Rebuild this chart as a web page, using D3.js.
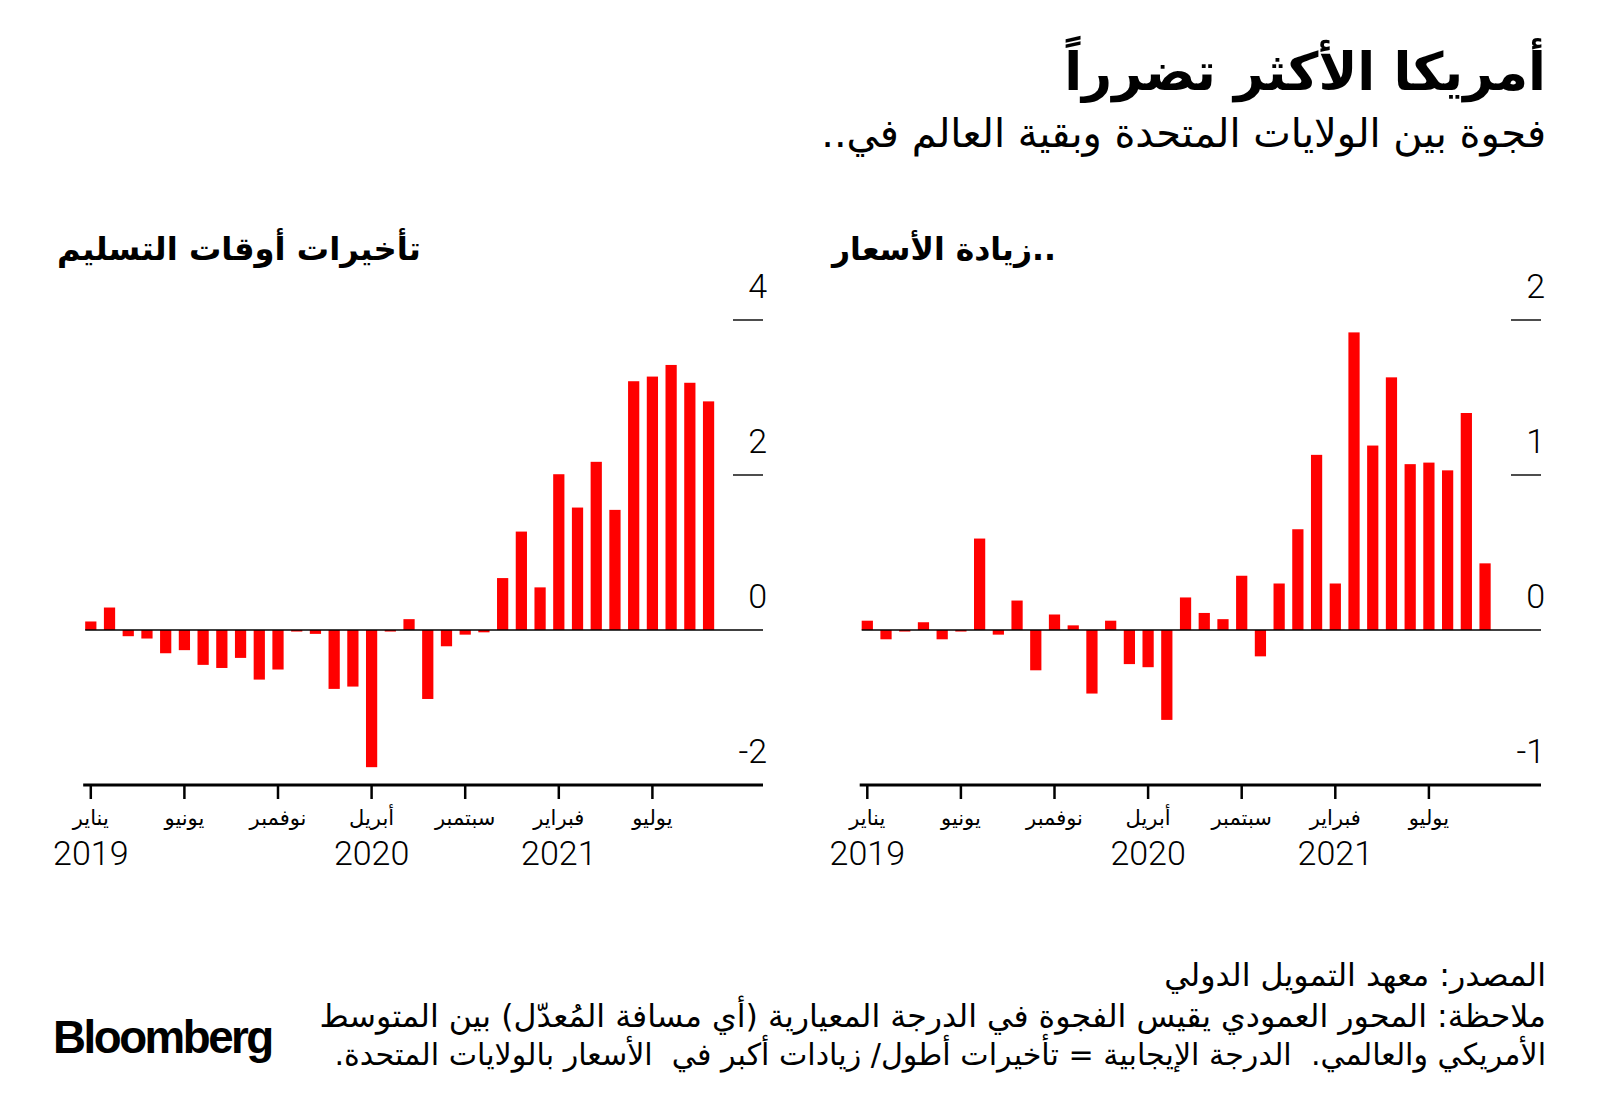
<!DOCTYPE html>
<html><head><meta charset="utf-8">
<script src="https://cdn.jsdelivr.net/npm/d3@7"></script>
<style>body{margin:0;background:#fff} svg{display:block}</style>
</head><body><svg id="c" width="1600" height="1116"></svg>
<script>
// ---- data (monthly, Jan 2019 – Oct 2021) ----
const deliveryGap = [0.11, 0.29, -0.08, -0.11, -0.30, -0.26, -0.45, -0.49, -0.36, -0.64, -0.51, -0.02,
  -0.05, -0.76, -0.73, -1.77, -0.02, 0.14, -0.89, -0.21, -0.06, -0.03, 0.67, 1.27,
  0.55, 2.01, 1.58, 2.17, 1.55, 3.21, 3.27, 3.42, 3.19, 2.95];
const priceGap = [0.06, -0.06, -0.01, 0.05, -0.06, -0.01, 0.59, -0.03, 0.19, -0.26, 0.10, 0.03,
  -0.41, 0.06, -0.22, -0.24, -0.58, 0.21, 0.11, 0.07, 0.35, -0.17, 0.30, 0.65,
  1.13, 0.30, 1.92, 1.19, 1.63, 1.07, 1.08, 1.03, 1.40, 0.43];
const tickMonths = [0, 5, 10, 15, 20, 25, 30];
const tickLabels = ["يناير", "يونيو", "نوفمبر", "أبريل", "سبتمبر", "فبراير", "يوليو"];
const yearTickMonths = [0, 15, 25];
const yearLabels = ["2019", "2020", "2021"];
const deliveryTicks = [4, 2, 0, -2];
const priceTicks = [2, 1, 0, -1];

const titleText = "أمريكا الأكثر تضرراً";
const subtitleText = "فجوة بين الولايات المتحدة وبقية العالم في..";
const deliveryTitle = "تأخيرات أوقات التسليم";
const priceTitle = "..زيادة الأسعار";
const footerLines = [
  "المصدر: معهد التمويل الدولي",
  "ملاحظة: المحور العمودي يقيس الفجوة في الدرجة المعيارية (أي مسافة المُعدّل) بين المتوسط",
  "الأمريكي والعالمي.  الدرجة الإيجابية = تأخيرات أطول/ زيادات أكبر في  الأسعار بالولايات المتحدة."
];

const svg = d3.select("#c");
svg.append("rect").attr("width", 1600).attr("height", 1116).attr("fill", "#fff");
const AR = "'DejaVu Sans', sans-serif";
const NUM = "Roboto, 'Liberation Sans', sans-serif";

function fit(sel, w) {
  const fs = +sel.attr("font-size");
  const len = sel.node().getComputedTextLength();
  if (len > 0) sel.attr("font-size", fs * w / len);
  return +sel.attr("font-size");
}

// ---- header ----
const t = svg.append("text").attr("x", 1546).attr("y", 90).attr("direction", "rtl")
  .attr("text-anchor", "start").attr("font-family", AR).attr("font-weight", "bold")
  .attr("font-size", 50).attr("fill", "#000").text(titleText);
fit(t, 482);
const st = svg.append("text").attr("x", 1546).attr("y", 147).attr("direction", "rtl")
  .attr("text-anchor", "start").attr("font-family", AR)
  .attr("font-size", 34).attr("fill", "#000").text(subtitleText);
fit(st, 725);

// ---- panels ----
const step = 18.72, n = deliveryGap.length;
const yTop = 320, yBot = 785;

function panel(o) {
  const g = svg.append("g");
  const x = d3.scaleBand().domain(d3.range(n))
    .range([o.c0 - step / 2, o.c0 + (n - 0.5) * step])
    .paddingInner(0.4).paddingOuter(0.2);
  const y = d3.scaleLinear().domain(o.yDomain).range([yBot, yTop]);
  const cx = i => x(i) + x.bandwidth() / 2;

  // title
  const pt = g.append("text").attr("x", o.titleLeft).attr("y", 260).attr("direction", "rtl")
    .attr("text-anchor", "end").attr("font-family", AR).attr("font-weight", "bold")
    .attr("font-size", 30).attr("fill", "#000").text(o.title);
  fit(pt, o.titleWidth);

  // bars
  g.selectAll("rect.bar").data(o.values).join("rect").attr("class", "bar")
    .attr("x", (d, i) => x(i)).attr("width", x.bandwidth())
    .attr("y", d => Math.min(y(d), y(0))).attr("height", d => Math.abs(y(d) - y(0)))
    .attr("fill", "#ff0000");

  // zero line
  g.append("line").attr("x1", x(0)).attr("x2", o.right).attr("y1", y(0)).attr("y2", y(0))
    .attr("stroke", "#000").attr("stroke-width", 1.6);

  // y ticks (short marks with labels above)
  o.yTicks.forEach(v => {
    if (v !== 0 && v !== o.yDomain[0]) {
      g.append("line").attr("x1", o.right - 30).attr("x2", o.right)
        .attr("y1", y(v)).attr("y2", y(v)).attr("stroke", "#000").attr("stroke-width", 1.4);
    }
    g.append("text").attr("x", o.right + 4).attr("y", y(v) - 22).attr("text-anchor", "end")
      .attr("font-family", NUM).attr("font-weight", 300).attr("font-size", 34).attr("fill", "#000")
      .text(v);
  });

  // bottom axis
  g.append("line").attr("x1", x(0) - 2).attr("x2", o.right).attr("y1", yBot).attr("y2", yBot)
    .attr("stroke", "#000").attr("stroke-width", 3);
  tickMonths.forEach((m, k) => {
    g.append("line").attr("x1", cx(m)).attr("x2", cx(m)).attr("y1", yBot).attr("y2", yBot + 14)
      .attr("stroke", "#000").attr("stroke-width", 2.5);
    g.append("text").attr("x", cx(m)).attr("y", 825).attr("text-anchor", "middle")
      .attr("font-family", AR).attr("font-size", 21).attr("fill", "#000").text(tickLabels[k]);
  });
  yearTickMonths.forEach((m, k) => {
    g.append("text").attr("x", cx(m)).attr("y", 865).attr("text-anchor", "middle")
      .attr("font-family", NUM).attr("font-weight", 300).attr("font-size", 34).attr("fill", "#000")
      .text(yearLabels[k]);
  });
}

panel({ values: deliveryGap, yDomain: [-2, 4], yTicks: deliveryTicks, c0: 90.8, right: 763,
  title: deliveryTitle, titleLeft: 57, titleWidth: 364 });
panel({ values: priceGap, yDomain: [-1, 2], yTicks: priceTicks, c0: 867.3, right: 1541,
  title: priceTitle, titleLeft: 832, titleWidth: 224 });

// ---- footer ----
const f2 = svg.append("text").attr("x", 1546).attr("y", 1027).attr("direction", "rtl")
  .attr("text-anchor", "start").attr("font-family", AR).attr("font-size", 24).attr("fill", "#000")
  .text(footerLines[1]);
const ffs = fit(f2, 1227);
svg.append("text").attr("x", 1546).attr("y", 986).attr("direction", "rtl")
  .attr("text-anchor", "start").attr("font-family", AR).attr("font-size", ffs).attr("fill", "#000")
  .text(footerLines[0]);
const f3 = svg.append("text").attr("x", 1546).attr("y", 1065).attr("direction", "rtl")
  .attr("text-anchor", "start").attr("font-family", AR).attr("font-size", ffs).attr("fill", "#000")
  .attr("xml:space", "preserve").style("white-space", "pre")
  .text(footerLines[2]);
fit(f3, 1212);

const logo = svg.append("text").attr("x", 53).attr("y", 1053).attr("font-family", "'Liberation Sans', Arial, sans-serif")
  .attr("font-weight", "bold").attr("font-size", 46).attr("letter-spacing", -2.5).attr("fill", "#000")
  .text("Bloomberg");
fit(logo, 219);
</script></body></html>
